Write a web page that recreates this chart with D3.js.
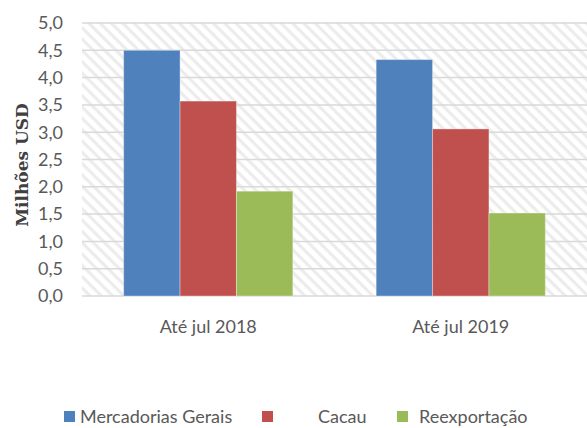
<!DOCTYPE html>
<html>
<head>
<meta charset="utf-8">
<script src="https://cdn.jsdelivr.net/npm/d3@7"></script>
<style>
  body { margin: 0; background: #fff; }
  svg text { font-family: Lato, "Liberation Sans", sans-serif; fill: #595959; }
</style>
</head>
<body>
<script>
// chart data
const periods = ["Até jul 2018", "Até jul 2019"];
const seriesNames = ["Mercadorias Gerais", "Cacau", "Reexportação"];
const mercadorias = [4.5, 4.33];
const cacau = [3.57, 3.06];
const reexportacao = [1.92, 1.52];
const yTicks = [0, 0.5, 1, 1.5, 2, 2.5, 3, 3.5, 4, 4.5, 5];

const colors = ["#4f81bd", "#c0504d", "#9bbb59"];
const seriesValues = [mercadorias, cacau, reexportacao];

const width = 587, height = 428;
const margin = { top: 23, right: 0, bottom: 132, left: 82 };

const svg = d3.select("body").append("svg")
    .attr("width", width)
    .attr("height", height);

// diagonal hatch for plot background
const defs = svg.append("defs");
const pat = defs.append("pattern")
    .attr("id", "hatch")
    .attr("patternUnits", "userSpaceOnUse")
    .attr("width", 8)
    .attr("height", 8)
    .attr("patternTransform", "rotate(45)");
pat.append("rect").attr("width", 8).attr("height", 8).attr("fill", "#fff");
pat.append("rect").attr("width", 8).attr("height", 3.2).attr("fill", "#ececec");

const x0 = d3.scaleBand()
    .domain(periods)
    .range([margin.left, width - margin.right])
    .paddingInner(0.33)
    .paddingOuter(0.165);

const x1 = d3.scaleBand()
    .domain(seriesNames)
    .range([0, x0.bandwidth()]);

const y = d3.scaleLinear()
    .domain([0, 5])
    .range([height - margin.bottom, margin.top]);

svg.append("rect")
    .attr("x", margin.left)
    .attr("y", margin.top)
    .attr("width", width - margin.left - margin.right)
    .attr("height", y(0) - margin.top)
    .attr("fill", "url(#hatch)");

// gridlines
svg.append("g")
    .selectAll("line")
    .data(yTicks)
    .join("line")
    .attr("x1", margin.left)
    .attr("x2", width - margin.right)
    .attr("y1", d => y(d))
    .attr("y2", d => y(d))
    .attr("stroke", "#d9d9d9")
    .attr("stroke-width", 1.5);

// y labels
svg.append("g")
    .selectAll("text")
    .data(yTicks)
    .join("text")
    .attr("x", 63)
    .attr("y", d => y(d))
    .attr("dy", "0.35em")
    .attr("text-anchor", "end")
    .style("font-size", "18px")
    .text(d => d3.format(".1f")(d).replace(".", ","));

// bars
const groups = svg.append("g")
    .selectAll("g")
    .data(periods)
    .join("g")
    .attr("transform", d => `translate(${x0(d)},0)`);

groups.selectAll("rect")
    .data((p, i) => seriesNames.map((s, j) => ({ s, v: seriesValues[j][i], c: colors[j] })))
    .join("rect")
    .attr("x", d => x1(d.s))
    .attr("width", x1.bandwidth())
    .attr("y", d => y(d.v))
    .attr("height", d => y(0) - y(d.v))
    .attr("fill", d => d.c)
    .attr("stroke", "#ffffff")
    .attr("stroke-opacity", 0.35)
    .attr("stroke-width", 1);

// x axis labels
svg.append("g")
    .selectAll("text")
    .data(periods)
    .join("text")
    .attr("x", d => x0(d) + x0.bandwidth() / 2)
    .attr("y", 333)
    .attr("text-anchor", "middle")
    .style("font-size", "18px")
    .text(d => d);

// y title
svg.append("text")
    .attr("transform", "translate(28,165) rotate(-90)")
    .attr("text-anchor", "middle")
    .style("font-family", "'DejaVu Serif', 'Liberation Serif', serif")
    .style("font-weight", "bold")
    .style("font-size", "17px")
    .style("fill", "#404040")
    .text("Milhões USD");

// legend
const legendX = [64, 262, 397];
const legendTextX = [80, 318, 419];
const legend = svg.append("g");
legend.selectAll("rect")
    .data(seriesNames)
    .join("rect")
    .attr("x", (d, i) => legendX[i])
    .attr("y", 411)
    .attr("width", 11)
    .attr("height", 11)
    .attr("fill", (d, i) => colors[i]);
legend.selectAll("text")
    .data(seriesNames)
    .join("text")
    .attr("x", (d, i) => legendTextX[i])
    .attr("y", 423)
    .style("font-size", "18px")
    .text(d => d);
</script>
</body>
</html>
